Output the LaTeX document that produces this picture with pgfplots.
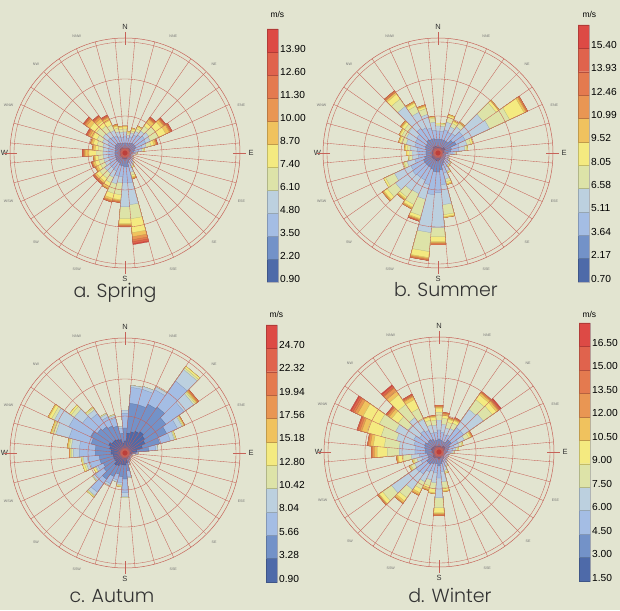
\documentclass[border=0pt]{standalone}
\usepackage{pgfplots}
\pgfplotsset{compat=1.18}
\usepackage{pgfplotstable}
\usepgfplotslibrary{polar}
\usepackage{graphicx}
\usepackage{fontspec}
\setmainfont{Liberation Sans}
\newfontfamily\titlefont{Poppins Light}

\definecolor{bgc}{RGB}{226,228,208}
\definecolor{rc1}{RGB}{78,106,169}
\definecolor{rc2}{RGB}{115,146,200}
\definecolor{rc3}{RGB}{164,189,228}
\definecolor{rc4}{RGB}{188,208,223}
\definecolor{rc5}{RGB}{221,227,168}
\definecolor{rc6}{RGB}{244,234,128}
\definecolor{rc7}{RGB}{240,194,94}
\definecolor{rc8}{RGB}{233,150,83}
\definecolor{rc9}{RGB}{228,122,79}
\definecolor{rc10}{RGB}{224,99,77}
\definecolor{rc11}{RGB}{221,74,69}
\definecolor{gridc}{RGB}{198,98,88}

% cumulative radius (px) at the top of each speed bin, per 10-degree sector
\pgfplotstableread{
d r1 r2 r3 r4 r5 r6 r7 r8 r9 r10 r11
0 5 10 17 21 24 26 27 27 27 27 27
10 5 10 15 18 20 21 22 22 22 22 22
20 5 10 17 21 23 25 26 26 26 26 26
30 5 11 20 24 27 29 30 30 30 30 30
40 6 12 22 27 33 38 41 42 43 44 44
50 6 12 24 29 37 44 47 48 49 50 50
60 6 12 23 28 37 45 49 50 51 52 52
70 5 10 18 22 27 30 32 33 33 34 34
80 4 9 14 17 19 20 20 20 20 20 20
90 4 7 10 11 12 12 12 12 12 12 12
100 3 6 8 9 9 9 9 9 9 9 9
110 3 5 7 8 8 8 8 8 8 8 8
120 3 6 8 9 9 9 9 9 9 9 9
130 4 7 9 10 10 10 10 10 10 10 10
140 4 8 11 12 13 13 13 13 13 13 13
150 4 8 12 14 15 16 16 16 16 16 16
160 5 10 16 20 23 25 26 27 27 27 27
170 6 14 30 52 66 80 84 87 89 91 92
180 6 14 30 54 66 71 72 73 74 74 74
190 6 13 24 30 42 47 48 49 50 50 50
200 6 13 24 32 42 47 49 50 51 51 51
210 5 11 20 27 33 37 39 40 40 40 40
220 5 11 19 25 31 35 37 38 38 39 39
230 5 11 19 25 31 35 37 38 38 39 39
240 5 10 17 22 27 30 32 33 33 33 33
250 5 10 17 22 27 31 33 34 34 35 35
260 5 10 17 22 27 30 31 32 32 32 32
270 5 10 17 22 29 36 40 41 42 43 43
280 5 10 17 22 27 30 32 33 33 33 33
290 5 10 17 23 29 33 35 36 36 36 36
300 5 11 19 25 31 36 39 41 42 43 43
310 6 12 21 27 35 43 47 49 50 51 51
320 6 12 20 26 33 39 42 44 45 46 46
330 6 11 19 25 31 36 39 40 41 42 42
340 5 10 17 22 26 28 29 30 30 30 30
350 5 10 16 21 24 26 27 27 27 27 27
}\tSpring

\pgfplotstableread{
d r1 r2 r3 r4 r5 r6 r7 r8 r9 r10 r11
0 6 14 22 27 29 30 30 30 30 30 30
10 6 14 22 27 29 30 30 30 30 30 30
20 6 14 24 32 37 39 40 40 40 40 40
30 6 14 23 29 33 35 36 36 36 36 36
40 6 14 24 32 36 37 38 38 38 38 38
50 8 18 30 55 71 74 75 75 75 75 75
60 8 20 30 57 79 95 97 98 99 99 99
70 6 14 22 30 34 36 36 36 36 36 36
80 6 13 21 27 29 30 30 30 30 30 30
90 5 10 15 17 18 18 18 18 18 18 18
100 4 8 11 12 12 12 12 12 12 12 12
110 4 8 10 11 11 11 11 11 11 11 11
120 4 8 11 12 13 13 13 13 13 13 13
130 4 9 13 15 16 16 16 16 16 16 16
140 4 9 13 15 16 17 17 17 17 17 17
150 5 11 16 20 21 22 22 22 22 22 22
160 6 13 21 27 30 32 33 33 33 33 33
170 7 17 32 52 62 64 65 65 65 65 65
180 8 19 40 75 84 89 90 91 92 92 92
190 8 19 42 80 99 105 106 107 108 108 108
200 7 17 33 48 65 68 69 70 70 71 71
210 7 16 30 45 57 60 61 62 62 62 62
220 7 16 30 46 54 56 57 58 58 58 58
230 7 16 31 52 62 66 67 68 68 68 68
240 7 16 30 48 58 60 60 60 60 60 60
250 6 14 24 32 35 36 36 36 36 36 36
260 6 12 20 26 29 30 30 30 30 30 30
270 6 12 20 26 29 31 32 32 32 32 32
280 6 12 21 28 31 33 34 34 34 34 34
290 6 13 24 33 38 40 41 41 41 41 41
300 6 14 25 35 40 42 43 43 43 43 43
310 6 14 26 36 41 44 45 46 46 46 46
320 7 16 30 57 66 72 74 75 76 76 76
330 7 15 28 45 52 55 56 57 57 57 57
340 7 15 26 40 46 48 49 50 50 50 50
350 6 14 23 31 35 36 37 37 37 37 37
}\tSummer

\pgfplotstableread{
d r1 r2 r3 r4 r5 r6 r7 r8 r9 r10 r11
0 12 25 40 43 43 43 43 43 43 43 43
10 20 50 66 68 68 68 68 68 68 68 68
20 22 50 66 69 69 69 69 69 69 69 69
30 24 54 70 73 73 73 73 73 73 73 73
40 26 56 88 102 104 106 106 106 106 106 106
50 24 50 72 84 86 87 88 89 90 90 90
60 22 46 58 63 64 65 65 66 66 66 66
70 18 36 47 51 52 53 53 53 53 53 53
80 12 24 31 33 33 33 33 33 33 33 33
90 7 11 13 13 13 13 13 13 13 13 13
100 5 7 8 8 8 8 8 8 8 8 8
110 4 6 7 7 7 7 7 7 7 7 7
120 4 6 7 7 7 7 7 7 7 7 7
130 4 6 7 7 7 7 7 7 7 7 7
140 5 7 8 8 8 8 8 8 8 8 8
150 5 8 9 9 9 9 9 9 9 9 9
160 6 10 12 12 12 12 12 12 12 12 12
170 10 18 24 25 25 25 25 25 25 25 25
180 12 26 40 44 45 45 45 45 45 45 45
190 12 24 30 32 33 34 34 34 34 34 34
200 12 22 28 30 30 30 30 30 30 30 30
210 14 26 34 36 36 36 36 36 36 36 36
220 15 32 48 52 53 54 54 54 54 54 54
230 12 26 36 39 40 40 40 40 40 40 40
240 12 24 30 32 33 35 35 35 35 35 35
250 12 26 36 40 42 44 44 44 44 44 44
260 12 26 38 42 43 44 44 44 44 44 44
270 14 30 46 52 54 55 55 56 56 56 56
280 14 30 46 54 56 57 58 58 58 58 58
290 16 35 58 72 75 76 77 77 77 77 77
300 18 38 62 78 81 84 85 85 85 85 85
310 16 34 52 62 66 68 68 68 68 68 68
320 16 32 48 53 55 56 56 56 56 56 56
330 15 30 40 43 44 44 44 44 44 44 44
340 14 28 36 39 40 40 40 40 40 40 40
350 10 20 25 27 27 27 27 27 27 27 27
}\tAutumn

\pgfplotstableread{
d r1 r2 r3 r4 r5 r6 r7 r8 r9 r10 r11
0 6 13 22 32 40 44 45 46 47 47 47
10 6 12 20 28 34 37 38 39 40 40 40
20 5 11 18 25 31 34 35 36 36 36 36
30 5 11 19 26 32 35 36 37 38 38 38
40 7 15 30 52 64 70 72 73 74 74 74
50 7 15 30 54 65 70 72 73 74 75 76
60 6 12 21 28 33 35 36 37 37 37 37
70 5 10 16 21 24 25 25 25 25 25 25
80 4 9 14 17 19 20 20 20 20 20 20
90 4 8 12 14 15 15 15 15 15 15 15
100 3 7 10 11 11 11 11 11 11 11 11
110 3 6 9 10 10 10 10 10 10 10 10
120 3 6 9 10 10 10 10 10 10 10 10
130 3 6 9 10 10 10 10 10 10 10 10
140 4 7 10 12 12 12 12 12 12 12 12
150 4 8 12 15 16 16 16 16 16 16 16
160 5 10 15 19 21 22 22 22 22 22 22
170 6 12 20 30 36 39 40 40 40 40 40
180 7 14 26 46 56 61 62 63 64 64 64
190 6 12 21 31 37 41 42 42 42 42 42
200 6 12 20 29 35 38 39 40 40 40 40
210 6 13 22 33 41 45 47 48 48 48 48
220 7 15 27 46 56 60 62 63 63 63 63
230 7 15 28 58 69 73 74 75 75 75 75
240 6 12 20 27 31 32 33 33 33 33 33
250 5 11 18 23 26 27 28 28 28 28 28
260 6 12 20 28 36 41 42 43 43 43 43
270 7 14 24 40 52 62 65 67 68 68 68
280 7 14 24 40 55 66 69 71 72 72 72
290 8 15 26 44 60 75 80 82 84 85 85
300 8 16 28 48 66 84 90 93 95 97 98
310 7 14 24 38 50 58 61 63 64 65 65
320 7 15 26 42 58 70 75 78 79 81 82
330 7 14 24 36 48 58 61 62 63 64 64
340 6 12 20 28 33 36 37 37 37 37 37
350 6 12 20 27 32 35 36 37 37 37 37
}\tWinter

% one filled outline per speed bin (outermost first)
\newcommand{\roseband}[2]{%
  \gdef\rosecoords{}%
  \pgfplotsforeachungrouped \ri in {0,...,35}{%
    \pgfplotstablegetelem{\ri}{d}\of{#1}\let\dirv\pgfplotsretval
    \pgfplotstablegetelem{\ri}{r#2}\of{#1}\let\radv\pgfplotsretval
    \edef\aA{\the\numexpr 455-\dirv\relax}%
    \edef\aB{\the\numexpr 445-\dirv\relax}%
    \ifnum\aA>360 \edef\aA{\the\numexpr\aA-360\relax}\fi
    \ifnum\aB>360 \edef\aB{\the\numexpr\aB-360\relax}\fi
    \xdef\rosecoords{\rosecoords (\aA,\radv) (\aB,\radv)}%
  }%
  \pgfplotstablegetelem{0}{r#2}\of{#1}\let\radv\pgfplotsretval
  \xdef\rosecoords{\rosecoords (95,\radv)}%
  \edef\rosetmp{\noexpand\addplot[fill=rc#2, draw=rc#2!76!black, line width=0.2pt] coordinates {\rosecoords};}%
  \rosetmp
}
\newcommand{\roseplots}[1]{%
  \pgfplotsinvokeforeach{11,10,...,1}{\roseband{#1}{##1}}%
  \addplot[only marks, mark=*, mark size=2.3pt, color=rc11!85!black] coordinates {(0,0)};
}
\newcommand{\bigdir}[3]{\node[font=\fontsize{7.5}{7.5}\selectfont, text=black!80] at (axis cs:#1,#2) {#3};}
\newcommand{\smalldir}[2]{\node[font=\fontsize{3.6}{3.6}\selectfont, text=black!55] at (axis cs:#1,126) {#2};}
\newcommand{\dirtick}[1]{\draw[gridc, line width=0.6pt] (axis cs:#1,108) -- (axis cs:#1,121);}
\newcommand{\compass}{%
  \bigdir{90}{126}{N}\bigdir{0}{126}{E}\bigdir{270}{126}{S}\bigdir{180}{120.5}{W}%
  \smalldir{67.5}{NNE}\smalldir{45}{NE}\smalldir{22.5}{ENE}%
  \smalldir{337.5}{ESE}\smalldir{315}{SE}\smalldir{292.5}{SSE}%
  \smalldir{247.5}{SSW}\smalldir{225}{SW}\smalldir{202.5}{WSW}%
  \smalldir{157.5}{WNW}\smalldir{135}{NW}\smalldir{112.5}{NNW}%
  \dirtick{90}\dirtick{0}\dirtick{270}\dirtick{180}%
}
\pgfplotsset{
  rose/.style={
    anchor=center, width=230pt, height=230pt, scale only axis,
    xmin=0, xmax=360, ymin=0, ymax=115,
    xtick={5,15,...,355}, ytick={37,74,111},
    xticklabels={}, yticklabels={},
    grid=major, major grid style={gridc, line width=0.35pt},
    axis line style={gridc, line width=0.5pt},
    y axis line style={draw=none},
    major tick length=0pt, clip=false, axis on top,
  },
  cbar/.style={
    anchor=south west, scale only axis, width=11pt,
    xmin=0, xmax=1, ymin=0, ymax=11,
    xtick=\empty, ytick={0,...,10}, yticklabel pos=right,
    major tick length=0pt,
    axis line style={draw=black!30, line width=0.3pt},
    yticklabel style={font=\fontsize{10.2}{10.2}\selectfont, yshift=3.5pt, inner sep=2pt},
  },
}
\newcommand{\cbblock}[3]{\addplot[fill=rc#1, draw=rc#1!80!black, line width=0.3pt] coordinates {(0,#2) (1,#2) (1,#3) (0,#3) (0,#2)};}
\newcommand{\cbblocks}{%
  \cbblock{1}{0}{1}\cbblock{2}{1}{2}\cbblock{3}{2}{3}\cbblock{4}{3}{4}%
  \cbblock{5}{4}{5}\cbblock{6}{5}{6}\cbblock{7}{6}{7}\cbblock{8}{7}{8}%
  \cbblock{9}{8}{9}\cbblock{10}{9}{10}\cbblock{11}{10}{11}%
}

\begin{document}
\begin{tikzpicture}[x=1pt,y=1pt]
\fill[bgc] (0,0) rectangle (620,610);
\useasboundingbox (0,0) rectangle (620,610);

% ---------- a. Spring
\begin{polaraxis}[rose, at={(125pt,457pt)}]
\roseplots{\tSpring}
\compass
\end{polaraxis}
\begin{axis}[cbar, at={(267pt,328pt)}, height=253pt,
  yticklabels={0.90,2.20,3.50,4.80,6.10,7.40,8.70,10.00,11.30,12.60,13.90}]
\cbblocks
\end{axis}
\node[anchor=base west, font=\fontsize{8.5}{8.5}\selectfont] at (267,592) {m/s};
\node[anchor=base, font=\titlefont\fontsize{19}{19}\selectfont, text=black!80] at (115,312) {a. Spring};

% ---------- b. Summer
\begin{polaraxis}[rose, at={(438pt,457pt)}]
\roseplots{\tSummer}
\compass
\end{polaraxis}
\begin{axis}[cbar, at={(578pt,328pt)}, height=257pt,
  yticklabels={0.70,2.17,3.64,5.11,6.58,8.05,9.52,10.99,12.46,13.93,15.40}]
\cbblocks
\end{axis}
\node[anchor=base west, font=\fontsize{8.5}{8.5}\selectfont] at (579,592) {m/s};
\node[anchor=base, font=\titlefont\fontsize{19}{19}\selectfont, text=black!80] at (446,313) {b. Summer};

% ---------- c. Autum
\begin{polaraxis}[rose, at={(125pt,157pt)}]
\roseplots{\tAutumn}
\compass
\end{polaraxis}
\begin{axis}[cbar, at={(266pt,28pt)}, height=257pt,
  yticklabels={0.90,3.28,5.66,8.04,10.42,12.80,15.18,17.56,19.94,22.32,24.70}]
\cbblocks
\end{axis}
\node[anchor=base west, font=\fontsize{8.5}{8.5}\selectfont] at (266,292) {m/s};
\node[anchor=base, font=\titlefont\fontsize{19}{19}\selectfont, text=black!80] at (112,8) {c. Autum};

% ---------- d. Winter
\begin{polaraxis}[rose, at={(439pt,158pt)}]
\roseplots{\tWinter}
\compass
\end{polaraxis}
\begin{axis}[cbar, at={(579pt,29pt)}, height=258pt,
  yticklabels={1.50,3.00,4.50,6.00,7.50,9.00,10.50,12.00,13.50,15.00,16.50}]
\cbblocks
\end{axis}
\node[anchor=base west, font=\fontsize{8.5}{8.5}\selectfont] at (579,292) {m/s};
\node[anchor=base, font=\titlefont\fontsize{19}{19}\selectfont, text=black!80] at (450,8) {d. Winter};
\end{tikzpicture}
\end{document}
